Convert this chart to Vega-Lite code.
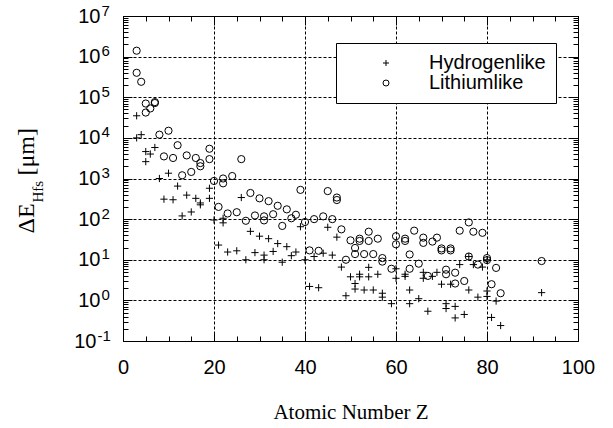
{
  "$schema": "https://vega.github.io/schema/vega-lite/v6.json",
  "width": 455,
  "height": 325,
  "autosize": {"type": "none"},
  "padding": {"left": 123, "top": 16, "right": 35, "bottom": 87},
  "background": "white",
  "data": {
    "values": [
      {"Z": 3, "E": 1400000, "series": "Lithiumlike"},
      {"Z": 3, "E": 400000, "series": "Lithiumlike"},
      {"Z": 4, "E": 240000, "series": "Lithiumlike"},
      {"Z": 5, "E": 70000, "series": "Lithiumlike"},
      {"Z": 5, "E": 42000, "series": "Lithiumlike"},
      {"Z": 6, "E": 53000, "series": "Lithiumlike"},
      {"Z": 7, "E": 72000, "series": "Lithiumlike"},
      {"Z": 7, "E": 76000, "series": "Lithiumlike"},
      {"Z": 8, "E": 12000, "series": "Lithiumlike"},
      {"Z": 9, "E": 3500, "series": "Lithiumlike"},
      {"Z": 10, "E": 15000, "series": "Lithiumlike"},
      {"Z": 11, "E": 3200, "series": "Lithiumlike"},
      {"Z": 12, "E": 6600, "series": "Lithiumlike"},
      {"Z": 13, "E": 1200, "series": "Lithiumlike"},
      {"Z": 14, "E": 3700, "series": "Lithiumlike"},
      {"Z": 15, "E": 1450, "series": "Lithiumlike"},
      {"Z": 16, "E": 3200, "series": "Lithiumlike"},
      {"Z": 17, "E": 2400, "series": "Lithiumlike"},
      {"Z": 17, "E": 2000, "series": "Lithiumlike"},
      {"Z": 19, "E": 5400, "series": "Lithiumlike"},
      {"Z": 19, "E": 3000, "series": "Lithiumlike"},
      {"Z": 20, "E": 870, "series": "Lithiumlike"},
      {"Z": 21, "E": 200, "series": "Lithiumlike"},
      {"Z": 22, "E": 1000, "series": "Lithiumlike"},
      {"Z": 22, "E": 760, "series": "Lithiumlike"},
      {"Z": 23, "E": 138, "series": "Lithiumlike"},
      {"Z": 24, "E": 1150, "series": "Lithiumlike"},
      {"Z": 25, "E": 148, "series": "Lithiumlike"},
      {"Z": 26, "E": 3000, "series": "Lithiumlike"},
      {"Z": 27, "E": 91, "series": "Lithiumlike"},
      {"Z": 28, "E": 440, "series": "Lithiumlike"},
      {"Z": 29, "E": 123, "series": "Lithiumlike"},
      {"Z": 30, "E": 325, "series": "Lithiumlike"},
      {"Z": 31, "E": 117, "series": "Lithiumlike"},
      {"Z": 31, "E": 93, "series": "Lithiumlike"},
      {"Z": 32, "E": 277, "series": "Lithiumlike"},
      {"Z": 33, "E": 132, "series": "Lithiumlike"},
      {"Z": 34, "E": 213, "series": "Lithiumlike"},
      {"Z": 35, "E": 68, "series": "Lithiumlike"},
      {"Z": 36, "E": 174, "series": "Lithiumlike"},
      {"Z": 37, "E": 105, "series": "Lithiumlike"},
      {"Z": 38, "E": 128, "series": "Lithiumlike"},
      {"Z": 39, "E": 525, "series": "Lithiumlike"},
      {"Z": 40, "E": 85, "series": "Lithiumlike"},
      {"Z": 41, "E": 17, "series": "Lithiumlike"},
      {"Z": 42, "E": 100, "series": "Lithiumlike"},
      {"Z": 43, "E": 16.6, "series": "Lithiumlike"},
      {"Z": 44, "E": 117, "series": "Lithiumlike"},
      {"Z": 45, "E": 490, "series": "Lithiumlike"},
      {"Z": 46, "E": 100, "series": "Lithiumlike"},
      {"Z": 47, "E": 340, "series": "Lithiumlike"},
      {"Z": 47, "E": 295, "series": "Lithiumlike"},
      {"Z": 48, "E": 56, "series": "Lithiumlike"},
      {"Z": 49, "E": 10, "series": "Lithiumlike"},
      {"Z": 50, "E": 30, "series": "Lithiumlike"},
      {"Z": 51, "E": 19.5, "series": "Lithiumlike"},
      {"Z": 51, "E": 13.8, "series": "Lithiumlike"},
      {"Z": 52, "E": 33, "series": "Lithiumlike"},
      {"Z": 52, "E": 29, "series": "Lithiumlike"},
      {"Z": 53, "E": 13.8, "series": "Lithiumlike"},
      {"Z": 54, "E": 49, "series": "Lithiumlike"},
      {"Z": 54, "E": 29, "series": "Lithiumlike"},
      {"Z": 55, "E": 13.8, "series": "Lithiumlike"},
      {"Z": 56, "E": 33, "series": "Lithiumlike"},
      {"Z": 57, "E": 11, "series": "Lithiumlike"},
      {"Z": 57, "E": 9, "series": "Lithiumlike"},
      {"Z": 59, "E": 6, "series": "Lithiumlike"},
      {"Z": 60, "E": 38, "series": "Lithiumlike"},
      {"Z": 60, "E": 24, "series": "Lithiumlike"},
      {"Z": 62, "E": 33, "series": "Lithiumlike"},
      {"Z": 62, "E": 29, "series": "Lithiumlike"},
      {"Z": 63, "E": 13.5, "series": "Lithiumlike"},
      {"Z": 63, "E": 6, "series": "Lithiumlike"},
      {"Z": 64, "E": 52, "series": "Lithiumlike"},
      {"Z": 65, "E": 8, "series": "Lithiumlike"},
      {"Z": 66, "E": 35, "series": "Lithiumlike"},
      {"Z": 66, "E": 26, "series": "Lithiumlike"},
      {"Z": 67, "E": 4, "series": "Lithiumlike"},
      {"Z": 68, "E": 28, "series": "Lithiumlike"},
      {"Z": 69, "E": 35, "series": "Lithiumlike"},
      {"Z": 70, "E": 19, "series": "Lithiumlike"},
      {"Z": 70, "E": 17, "series": "Lithiumlike"},
      {"Z": 71, "E": 5.7, "series": "Lithiumlike"},
      {"Z": 71, "E": 4.4, "series": "Lithiumlike"},
      {"Z": 72, "E": 19, "series": "Lithiumlike"},
      {"Z": 72, "E": 17, "series": "Lithiumlike"},
      {"Z": 73, "E": 4.8, "series": "Lithiumlike"},
      {"Z": 73, "E": 2.6, "series": "Lithiumlike"},
      {"Z": 74, "E": 52, "series": "Lithiumlike"},
      {"Z": 75, "E": 3.0, "series": "Lithiumlike"},
      {"Z": 76, "E": 83, "series": "Lithiumlike"},
      {"Z": 76, "E": 12, "series": "Lithiumlike"},
      {"Z": 77, "E": 49, "series": "Lithiumlike"},
      {"Z": 78, "E": 7.6, "series": "Lithiumlike"},
      {"Z": 79, "E": 46, "series": "Lithiumlike"},
      {"Z": 80, "E": 11, "series": "Lithiumlike"},
      {"Z": 80, "E": 9.8, "series": "Lithiumlike"},
      {"Z": 81, "E": 2.5, "series": "Lithiumlike"},
      {"Z": 82, "E": 6.3, "series": "Lithiumlike"},
      {"Z": 83, "E": 1.5, "series": "Lithiumlike"},
      {"Z": 92, "E": 9.3, "series": "Lithiumlike"},
      {"Z": 3, "E": 35000, "series": "Hydrogenlike"},
      {"Z": 3, "E": 10000, "series": "Hydrogenlike"},
      {"Z": 4, "E": 12000, "series": "Hydrogenlike"},
      {"Z": 5, "E": 4600, "series": "Hydrogenlike"},
      {"Z": 5, "E": 2600, "series": "Hydrogenlike"},
      {"Z": 6, "E": 4000, "series": "Hydrogenlike"},
      {"Z": 7, "E": 5800, "series": "Hydrogenlike"},
      {"Z": 8, "E": 1000, "series": "Hydrogenlike"},
      {"Z": 9, "E": 310, "series": "Hydrogenlike"},
      {"Z": 10, "E": 1350, "series": "Hydrogenlike"},
      {"Z": 11, "E": 300, "series": "Hydrogenlike"},
      {"Z": 12, "E": 650, "series": "Hydrogenlike"},
      {"Z": 13, "E": 120, "series": "Hydrogenlike"},
      {"Z": 14, "E": 390, "series": "Hydrogenlike"},
      {"Z": 15, "E": 150, "series": "Hydrogenlike"},
      {"Z": 16, "E": 325, "series": "Hydrogenlike"},
      {"Z": 17, "E": 250, "series": "Hydrogenlike"},
      {"Z": 17, "E": 225, "series": "Hydrogenlike"},
      {"Z": 19, "E": 575, "series": "Hydrogenlike"},
      {"Z": 19, "E": 325, "series": "Hydrogenlike"},
      {"Z": 20, "E": 95, "series": "Hydrogenlike"},
      {"Z": 21, "E": 23, "series": "Hydrogenlike"},
      {"Z": 22, "E": 105, "series": "Hydrogenlike"},
      {"Z": 22, "E": 81, "series": "Hydrogenlike"},
      {"Z": 23, "E": 15.5, "series": "Hydrogenlike"},
      {"Z": 25, "E": 16.6, "series": "Hydrogenlike"},
      {"Z": 26, "E": 340, "series": "Hydrogenlike"},
      {"Z": 27, "E": 10, "series": "Hydrogenlike"},
      {"Z": 28, "E": 50, "series": "Hydrogenlike"},
      {"Z": 29, "E": 15, "series": "Hydrogenlike"},
      {"Z": 30, "E": 38, "series": "Hydrogenlike"},
      {"Z": 31, "E": 13, "series": "Hydrogenlike"},
      {"Z": 31, "E": 10, "series": "Hydrogenlike"},
      {"Z": 32, "E": 33, "series": "Hydrogenlike"},
      {"Z": 33, "E": 16, "series": "Hydrogenlike"},
      {"Z": 34, "E": 25, "series": "Hydrogenlike"},
      {"Z": 35, "E": 8.7, "series": "Hydrogenlike"},
      {"Z": 36, "E": 21, "series": "Hydrogenlike"},
      {"Z": 37, "E": 12.6, "series": "Hydrogenlike"},
      {"Z": 38, "E": 15.5, "series": "Hydrogenlike"},
      {"Z": 39, "E": 65, "series": "Hydrogenlike"},
      {"Z": 40, "E": 10, "series": "Hydrogenlike"},
      {"Z": 41, "E": 2.2, "series": "Hydrogenlike"},
      {"Z": 42, "E": 12, "series": "Hydrogenlike"},
      {"Z": 43, "E": 2.05, "series": "Hydrogenlike"},
      {"Z": 44, "E": 14.5, "series": "Hydrogenlike"},
      {"Z": 45, "E": 63, "series": "Hydrogenlike"},
      {"Z": 46, "E": 13, "series": "Hydrogenlike"},
      {"Z": 47, "E": 36, "series": "Hydrogenlike"},
      {"Z": 48, "E": 6.6, "series": "Hydrogenlike"},
      {"Z": 49, "E": 1.3, "series": "Hydrogenlike"},
      {"Z": 50, "E": 3.8, "series": "Hydrogenlike"},
      {"Z": 51, "E": 2.6, "series": "Hydrogenlike"},
      {"Z": 51, "E": 1.9, "series": "Hydrogenlike"},
      {"Z": 52, "E": 4.4, "series": "Hydrogenlike"},
      {"Z": 52, "E": 3.8, "series": "Hydrogenlike"},
      {"Z": 53, "E": 1.8, "series": "Hydrogenlike"},
      {"Z": 54, "E": 6.5, "series": "Hydrogenlike"},
      {"Z": 54, "E": 3.8, "series": "Hydrogenlike"},
      {"Z": 55, "E": 1.8, "series": "Hydrogenlike"},
      {"Z": 56, "E": 4.4, "series": "Hydrogenlike"},
      {"Z": 57, "E": 1.5, "series": "Hydrogenlike"},
      {"Z": 57, "E": 1.2, "series": "Hydrogenlike"},
      {"Z": 59, "E": 0.83, "series": "Hydrogenlike"},
      {"Z": 60, "E": 6, "series": "Hydrogenlike"},
      {"Z": 60, "E": 3.5, "series": "Hydrogenlike"},
      {"Z": 62, "E": 4.4, "series": "Hydrogenlike"},
      {"Z": 62, "E": 3.9, "series": "Hydrogenlike"},
      {"Z": 63, "E": 1.8, "series": "Hydrogenlike"},
      {"Z": 63, "E": 0.83, "series": "Hydrogenlike"},
      {"Z": 65, "E": 1.1, "series": "Hydrogenlike"},
      {"Z": 66, "E": 4.9, "series": "Hydrogenlike"},
      {"Z": 66, "E": 3.5, "series": "Hydrogenlike"},
      {"Z": 67, "E": 0.54, "series": "Hydrogenlike"},
      {"Z": 68, "E": 3.9, "series": "Hydrogenlike"},
      {"Z": 69, "E": 4.9, "series": "Hydrogenlike"},
      {"Z": 70, "E": 2.5, "series": "Hydrogenlike"},
      {"Z": 71, "E": 0.83, "series": "Hydrogenlike"},
      {"Z": 71, "E": 0.63, "series": "Hydrogenlike"},
      {"Z": 72, "E": 2.5, "series": "Hydrogenlike"},
      {"Z": 73, "E": 0.71, "series": "Hydrogenlike"},
      {"Z": 73, "E": 0.37, "series": "Hydrogenlike"},
      {"Z": 74, "E": 7.6, "series": "Hydrogenlike"},
      {"Z": 75, "E": 0.45, "series": "Hydrogenlike"},
      {"Z": 76, "E": 12, "series": "Hydrogenlike"},
      {"Z": 76, "E": 1.8, "series": "Hydrogenlike"},
      {"Z": 77, "E": 7.6, "series": "Hydrogenlike"},
      {"Z": 78, "E": 1.2, "series": "Hydrogenlike"},
      {"Z": 79, "E": 6.6, "series": "Hydrogenlike"},
      {"Z": 80, "E": 10, "series": "Hydrogenlike"},
      {"Z": 80, "E": 1.7, "series": "Hydrogenlike"},
      {"Z": 80, "E": 1.25, "series": "Hydrogenlike"},
      {"Z": 81, "E": 0.38, "series": "Hydrogenlike"},
      {"Z": 82, "E": 0.96, "series": "Hydrogenlike"},
      {"Z": 83, "E": 0.24, "series": "Hydrogenlike"},
      {"Z": 92, "E": 1.55, "series": "Hydrogenlike"}
    ]
  },
  "layer": [
    {
      "mark": {"type": "point", "filled": false, "color": "black", "stroke": "black", "strokeWidth": 1, "opacity": 1, "size": 52},
      "encoding": {
        "x": {
          "field": "Z", "type": "quantitative",
          "scale": {"domain": [0, 100], "nice": false, "zero": false},
          "axis": {
            "orient": "bottom", "values": [0, 20, 40, 60, 80, 100],
            "grid": true, "gridDash": [3, 2], "gridWidth": 1, "gridOpacity": 1,
            "ticks": false, "domain": false,
            "labelFontSize": 20, "labelPadding": 16, "labelFlush": false, "labelOverlap": false,
            "title": "Atomic Number Z", "titleFontSize": 21, "titleX": 227.5, "titleY": 77,
            "titleBaseline": "alphabetic", "titleAlign": "center"
          }
        },
        "y": {
          "field": "E", "type": "quantitative",
          "scale": {"type": "log", "domain": [0.1, 10000000], "nice": false},
          "axis": {
            "orient": "left", "values": [0.1, 1, 10, 100, 1000, 10000, 100000, 1000000, 10000000],
            "grid": true, "gridDash": [3, 2], "gridWidth": 1, "gridOpacity": 1,
            "ticks": false, "domain": false,
            "labelExpr": "'10'", "labelFontSize": 20, "labelAlign": "right", "labelBaseline": "middle",
            "labelPadding": {"condition": {"test": "datum.value < 1", "value": 27}, "value": 23},
            "labelFlush": false, "labelOverlap": false,
            "title": "ΔE", "titleFontSize": 24, "titleAngle": 270, "titleX": -90, "titleY": 217,
            "titleAlign": "left", "titleBaseline": "alphabetic"
          }
        },
        "shape": {
          "field": "series", "type": "nominal",
          "scale": {"domain": ["Hydrogenlike", "Lithiumlike"], "range": ["M-1,0H1M0,-1V1", "circle"]},
          "legend": {
            "title": null, "orient": "none", "legendX": 213, "legendY": 27,
            "labelExpr": "datum.label + '  '"
          }
        }
      }
    },
    {
      "mark": {"type": "point", "opacity": 0},
      "encoding": {
        "x": {
          "field": "Z", "type": "quantitative",
          "axis": {
            "orient": "bottom", "values": [0, 5, 10, 15, 20, 25, 30, 35, 40, 45, 50, 55, 60, 65, 70, 75, 80, 85, 90, 95, 100],
            "grid": false, "labels": false, "domain": false, "ticks": true,
            "tickSize": {"condition": {"test": "datum.value % 20 === 0", "value": -9}, "value": -5}, "tickColor": "black", "tickWidth": 1,
            "title": null
          }
        },
        "y": {
          "field": "E", "type": "quantitative",
          "axis": {
            "orient": "left", "tickCount": 80, "grid": false, "labels": false, "domain": false, "ticks": true,
            "tickSize": {"condition": {"test": "abs(log(datum.value)/LN10 - round(log(datum.value)/LN10)) < 0.01", "value": -9}, "value": -5}, "tickColor": "black", "tickWidth": 1,
            "title": "Hfs", "titleFontSize": 15, "titleAngle": 270, "titleX": -81, "titleY": 186,
            "titleAlign": "left", "titleBaseline": "alphabetic"
          }
        }
      }
    },
    {
      "mark": {"type": "point", "opacity": 0},
      "encoding": {
        "x": {
          "field": "Z", "type": "quantitative",
          "axis": {
            "orient": "top", "values": [0, 5, 10, 15, 20, 25, 30, 35, 40, 45, 50, 55, 60, 65, 70, 75, 80, 85, 90, 95, 100],
            "grid": false, "labels": false, "domain": false, "ticks": true,
            "tickSize": {"condition": {"test": "datum.value % 20 === 0", "value": -9}, "value": -5}, "tickColor": "black", "tickWidth": 1,
            "title": null
          }
        },
        "y": {
          "field": "E", "type": "quantitative",
          "axis": {
            "orient": "right", "tickCount": 80, "grid": false, "labels": false, "domain": false, "ticks": true,
            "tickSize": {"condition": {"test": "abs(log(datum.value)/LN10 - round(log(datum.value)/LN10)) < 0.01", "value": -9}, "value": -5}, "tickColor": "black", "tickWidth": 1,
            "title": null
          }
        }
      }
    },
    {
      "mark": {"type": "point", "opacity": 0},
      "encoding": {
        "x": {"field": "Z", "type": "quantitative", "axis": null},
        "y": {
          "field": "E", "type": "quantitative",
          "axis": {
            "orient": "left", "values": [0.1, 1, 10, 100, 1000, 10000, 100000, 1000000, 10000000],
            "grid": false, "ticks": false, "domain": false,
            "labelExpr": "(datum.value < 1 ? '-' : '') + format(abs(round(log(datum.value)/LN10)), 'd')",
            "labelFontSize": 15, "labelAlign": "left", "labelBaseline": "middle",
            "labelPadding": {"condition": {"test": "datum.value < 1", "value": 26}, "value": 22},
            "labelOffset": -6, "labelFlush": false, "labelOverlap": false,
            "title": "[μm]", "titleFontSize": 24, "titleAngle": 270, "titleX": -90, "titleY": 159,
            "titleAlign": "left", "titleBaseline": "alphabetic"
          }
        }
      }
    }
  ],
  "resolve": {"axis": {"x": "independent", "y": "independent"}},
  "config": {
    "view": {"stroke": "black", "strokeWidth": 1},
    "axis": {
      "labelColor": "black", "titleColor": "black", "gridColor": "black",
      "labelFont": "Liberation Sans", "titleFont": "Liberation Serif", "titleFontWeight": "normal"
    },
    "legend": {
      "strokeColor": "black", "fillColor": "white", "padding": 10, "cornerRadius": 0,
      "labelFont": "Liberation Sans", "labelFontSize": 20, "labelColor": "black",
      "rowPadding": 0, "symbolOffset": 30, "labelOffset": 33, "symbolSize": 36,
      "symbolStrokeWidth": 1, "symbolStrokeColor": "black", "symbolFillColor": "transparent",
      "labelLimit": 300
    }
  }
}
